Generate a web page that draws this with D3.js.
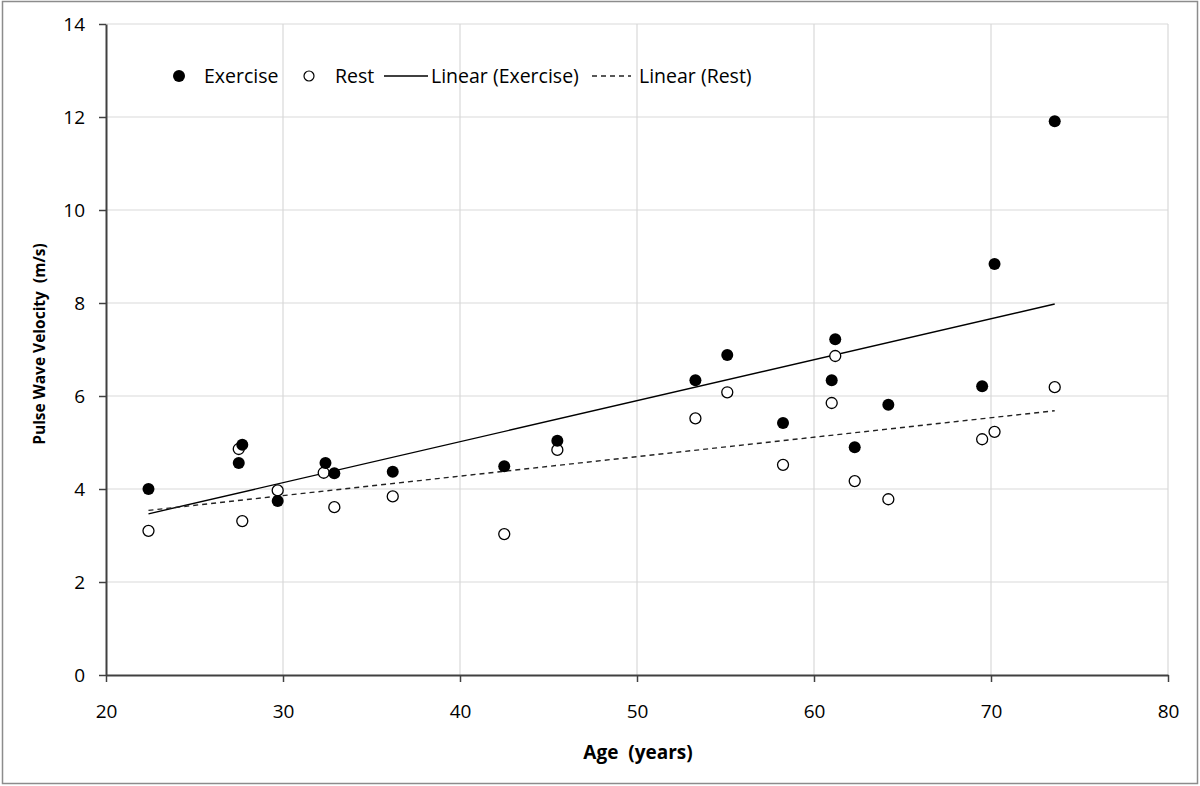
<!DOCTYPE html>
<html>
<head>
<meta charset="utf-8">
<script src="https://cdn.jsdelivr.net/npm/d3@7"></script>
<style>
  body { margin: 0; background: #fff; }
  text { font-family: "Open Sans", "Noto Sans", sans-serif; fill: #000; }
</style>
</head>
<body>
<div id="chart"></div>
<script>
// ages (years), same subjects for both series
const ages = [22.4, 27.5, 27.7, 29.7, 32.4, 32.9, 36.2, 42.5, 45.5, 53.3, 55.1, 58.25, 61.2, 61.0, 62.3, 64.2, 69.5, 70.2, 73.6];
const exercisePwv = [4.00, 4.56, 4.95, 3.74, 4.56, 4.34, 4.37, 4.49, 5.04, 6.34, 6.88, 5.42, 7.22, 6.34, 4.90, 5.81, 6.21, 8.84, 11.91];
const restAges = [22.4, 27.5, 27.7, 29.7, 32.3, 32.9, 36.2, 42.5, 45.5, 53.3, 55.1, 58.25, 61.2, 61.0, 62.3, 64.2, 69.5, 70.2, 73.6];
const restPwv = [3.10, 4.86, 3.31, 3.97, 4.35, 3.61, 3.84, 3.03, 4.84, 5.52, 6.08, 4.52, 6.86, 5.85, 4.17, 3.78, 5.07, 5.23, 6.19];
const xTicks = [20, 30, 40, 50, 60, 70, 80];
const yTicks = [0, 2, 4, 6, 8, 10, 12, 14];

const W = 1200, H = 786;
const margin = { top: 24, right: 32, bottom: 111, left: 106 };
const width = W - margin.left - margin.right;
const height = H - margin.top - margin.bottom;

const svg = d3.select('#chart').append('svg').attr('width', W).attr('height', H);

// outer border
svg.append('rect')
  .attr('x', 2.5).attr('y', 1.5).attr('width', 1195).attr('height', 782)
  .attr('fill', '#fff').attr('stroke', '#8c8c8c').attr('stroke-width', 1.5);

const x = d3.scaleLinear().domain([20, 80]).range([0, width]);
const y = d3.scaleLinear().domain([0, 14]).range([height, 0]);

const chart = svg.append('g').attr('transform', `translate(${margin.left},${margin.top})`);

// grid lines
chart.append('g')
  .selectAll('line.gy')
  .data(yTicks.filter(d => d > 0))
  .enter().append('line')
  .attr('x1', 0).attr('x2', width)
  .attr('y1', d => y(d)).attr('y2', d => y(d))
  .attr('stroke', '#d9d9d9').attr('stroke-width', 1.2);
chart.append('g')
  .selectAll('line.gx')
  .data(xTicks.filter(d => d > 20))
  .enter().append('line')
  .attr('x1', d => x(d)).attr('x2', d => x(d))
  .attr('y1', 0).attr('y2', height)
  .attr('stroke', '#d9d9d9').attr('stroke-width', 1.2);

// axes
const xAxis = chart.append('g')
  .attr('transform', `translate(0,${height})`)
  .call(d3.axisBottom(x).tickValues(xTicks).tickSize(7).tickPadding(23).tickSizeOuter(0));
const yAxis = chart.append('g')
  .call(d3.axisLeft(y).tickValues(yTicks).tickSize(7).tickPadding(14).tickSizeOuter(0));
[xAxis, yAxis].forEach(a => {
  a.select('.domain').attr('stroke', '#404040').attr('stroke-width', 2);
  a.selectAll('.tick line').attr('stroke', '#404040').attr('stroke-width', 1.5);
  a.selectAll('.tick text').style('font-size', '19px').attr('fill', '#000');
});

// linear trend lines (least squares)
function fit(xs, ys) {
  const mx = d3.mean(xs), my = d3.mean(ys);
  let sxy = 0, sxx = 0;
  xs.forEach((v, i) => { sxy += (v - mx) * (ys[i] - my); sxx += (v - mx) * (v - mx); });
  const b = sxy / sxx;
  const a = my - b * mx;
  const x0 = d3.min(xs), x1 = d3.max(xs);
  return [[x0, a + b * x0], [x1, a + b * x1]];
}
const line = d3.line().x(d => x(d[0])).y(d => y(d[1]));

chart.append('path')
  .attr('d', line(fit(ages, exercisePwv)))
  .attr('fill', 'none').attr('stroke', '#000').attr('stroke-width', 1.4);
chart.append('path')
  .attr('d', line(fit(restAges, restPwv)))
  .attr('fill', 'none').attr('stroke', '#222').attr('stroke-width', 1.4)
  .attr('stroke-dasharray', '5,4');

// points
chart.append('g')
  .selectAll('circle')
  .data(restAges.map((a, i) => [a, restPwv[i]]))
  .enter().append('circle')
  .attr('cx', d => x(d[0])).attr('cy', d => y(d[1])).attr('r', 5.5)
  .attr('fill', '#fff').attr('stroke', '#000').attr('stroke-width', 1.3);
chart.append('g')
  .selectAll('circle')
  .data(ages.map((a, i) => [a, exercisePwv[i]]))
  .enter().append('circle')
  .attr('cx', d => x(d[0])).attr('cy', d => y(d[1])).attr('r', 6)
  .attr('fill', '#000');

// legend
const lg = svg.append('g').attr('transform', 'translate(0,76)');
lg.append('circle').attr('cx', 179).attr('cy', 0).attr('r', 6).attr('fill', '#000');
lg.append('text').attr('x', 204).attr('y', 0).attr('dy', '0.35em').style('font-size', '19.5px').text('Exercise');
lg.append('circle').attr('cx', 309).attr('cy', 0).attr('r', 5).attr('fill', '#fff').attr('stroke', '#000').attr('stroke-width', 1.2);
lg.append('text').attr('x', 335).attr('y', 0).attr('dy', '0.35em').style('font-size', '19.5px').text('Rest');
lg.append('line').attr('x1', 384).attr('x2', 428).attr('y1', 0).attr('y2', 0).attr('stroke', '#000').attr('stroke-width', 1.4);
lg.append('text').attr('x', 431).attr('y', 0).attr('dy', '0.35em').style('font-size', '19.5px').text('Linear (Exercise)');
lg.append('line').attr('x1', 592).attr('x2', 631).attr('y1', 0).attr('y2', 0).attr('stroke', '#222').attr('stroke-width', 1.4).attr('stroke-dasharray', '5,4');
lg.append('text').attr('x', 639).attr('y', 0).attr('dy', '0.35em').style('font-size', '19.5px').text('Linear (Rest)');

// axis titles
svg.append('text')
  .attr('x', 638).attr('y', 752).attr('dy', '0.35em').attr('text-anchor', 'middle')
  .style('font-size', '19px').style('font-weight', 'bold').style('white-space', 'pre')
  .text('Age  (years)');
svg.append('text')
  .attr('transform', 'translate(40,344) rotate(-90)')
  .attr('dy', '0.35em').attr('text-anchor', 'middle')
  .style('font-size', '15.5px').style('font-weight', 'bold').style('white-space', 'pre')
  .text('Pulse Wave Velocity  (m/s)');
</script>
</body>
</html>
